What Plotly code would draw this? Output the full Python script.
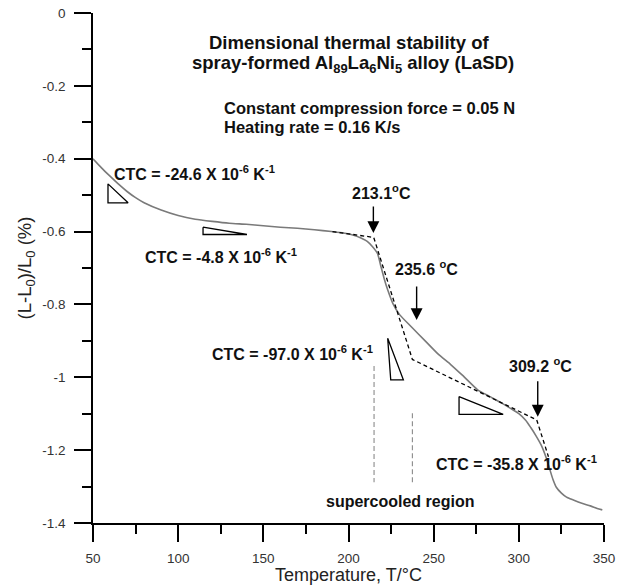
import plotly.graph_objects as go

# ---- data ----
temp = [50, 55, 60, 65, 70, 75, 80, 90, 100, 110, 120, 130, 140, 150, 160, 170, 180,
        190, 197, 203, 207, 211, 214, 217, 219, 221, 223, 226, 230, 237, 245, 253, 260,
        267, 276, 283, 290, 296, 300, 304, 307, 310, 313, 316, 318, 320, 322, 325, 328,
        332, 337, 342, 346, 349]
dl = [-0.400, -0.425, -0.448, -0.470, -0.490, -0.507, -0.521, -0.541, -0.556, -0.566,
      -0.572, -0.577, -0.580, -0.584, -0.588, -0.591, -0.595, -0.600, -0.604, -0.610,
      -0.617, -0.627, -0.641, -0.660, -0.695, -0.730, -0.760, -0.797, -0.828, -0.862,
      -0.900, -0.938, -0.965, -0.995, -1.035, -1.053, -1.071, -1.088, -1.100, -1.118,
      -1.138, -1.160, -1.185, -1.220, -1.250, -1.280, -1.302, -1.318, -1.329, -1.337,
      -1.346, -1.353, -1.360, -1.364]

tangent_t = [190.6, 214.8, 237.5, 310.5, 317.4]
tangent_v = [-0.600, -0.616, -0.951, -1.117, -1.218]

supercooled_t = [215.0, 237.5]
supercooled_top = [-0.969, -1.099]
supercooled_bottom = [-1.288, -1.290]

# slope triangles (x, y vertex lists)
tri1_t = [58.8, 58.8, 70.6, 58.8]
tri1_v = [-0.469, -0.521, -0.521, -0.469]
tri2_t = [114.6, 114.6, 140.4, 114.6]
tri2_v = [-0.588, -0.608, -0.608, -0.588]
tri3_t = [223.0, 224.8, 232.2, 223.0]
tri3_v = [-0.893, -1.007, -1.007, -0.893]
tri4_t = [264.9, 264.9, 290.8, 264.9]
tri4_v = [-1.053, -1.102, -1.102, -1.053]

onset_labels = ["213.1<sup>o</sup>C", "235.6 <sup>o</sup>C", "309.2 <sup>o</sup>C"]
onset_arrow_t = [214.6, 240.0, 311.1]
onset_arrow_tip = [-0.604, -0.843, -1.108]
onset_arrow_tail = [-0.527, -0.747, -1.007]
onset_label_t = [219.5, 245.7, 312.5]
onset_label_v = [-0.490, -0.699, -0.966]

ctc_labels = ["CTC = -24.6 X 10<sup>-6</sup> K<sup>-1</sup>",
              "CTC = -4.8 X 10<sup>-6</sup> K<sup>-1</sup>",
              "CTC = -97.0 X 10<sup>-6</sup> K<sup>-1</sup>",
              "CTC = -35.8 X 10<sup>-6</sup> K<sup>-1</sup>"]
ctc_t = [61.3, 79.3, 118.7, 250.4]
ctc_v = [-0.438, -0.667, -0.934, -1.236]

x_ticks = [50, 100, 150, 200, 250, 300, 350]
y_ticks = [0, -0.2, -0.4, -0.6, -0.8, -1, -1.2, -1.4]
y_tick_text = ["0", "-0.2", "-0.4", "-0.6", "-0.8", "-1", "-1.2", "-1.4"]

FONT = "Liberation Sans, Arial, Helvetica, sans-serif"
TXT = "#111"

fig = go.Figure()

fig.add_trace(go.Scatter(x=temp, y=dl, mode="lines",
                         line=dict(color="#7a7a7a", width=1.6, shape="spline", smoothing=0.6),
                         hoverinfo="skip", showlegend=False))
fig.add_trace(go.Scatter(x=tangent_t, y=tangent_v, mode="lines",
                         line=dict(color="black", width=1.3, dash="4px,3px"),
                         hoverinfo="skip", showlegend=False))
for xt, yt, yb in zip(supercooled_t, supercooled_top, supercooled_bottom):
    fig.add_trace(go.Scatter(x=[xt, xt], y=[yt, yb], mode="lines",
                             line=dict(color="#8a8a8a", width=1.1, dash="5px,3px"),
                             hoverinfo="skip", showlegend=False))
for tx, tv in [(tri1_t, tri1_v), (tri2_t, tri2_v), (tri3_t, tri3_v), (tri4_t, tri4_v)]:
    fig.add_trace(go.Scatter(x=tx, y=tv, mode="lines", fill="toself", fillcolor="white",
                             line=dict(color="black", width=1.3),
                             hoverinfo="skip", showlegend=False))

ann = []
for lab, at, tip, tail, lt, lv in zip(onset_labels, onset_arrow_t, onset_arrow_tip,
                                       onset_arrow_tail, onset_label_t, onset_label_v):
    ann.append(dict(x=at, y=tip, ax=at, ay=tail, xref="x", yref="y", axref="x", ayref="y",
                    text="", showarrow=True, arrowhead=2, arrowsize=1.7, arrowwidth=1.4,
                    arrowcolor="black", standoff=0, startstandoff=0))
    ann.append(dict(x=lt, y=lv, xref="x", yref="y", text="<b>" + lab + "</b>", showarrow=False,
                    font=dict(family=FONT, size=16, color=TXT), xanchor="center",
                    yanchor="middle"))
for lab, lt, lv in zip(ctc_labels, ctc_t, ctc_v):
    ann.append(dict(x=lt, y=lv, xref="x", yref="y", text="<b>" + lab + "</b>", showarrow=False,
                    font=dict(family=FONT, size=16, color=TXT), xanchor="left",
                    yanchor="middle"))

ann.append(dict(x=200.5, y=-0.081, xref="x", yref="y",
                text="<b>Dimensional thermal stability of</b>", showarrow=False,
                font=dict(family=FONT, size=18.5, color=TXT), xanchor="center", yanchor="middle"))
ann.append(dict(x=202.4, y=-0.140, xref="x", yref="y",
                text="<b>spray-formed Al<sub>89</sub>La<sub>6</sub>Ni<sub>5</sub> alloy (LaSD)</b>",
                showarrow=False, font=dict(family=FONT, size=18.5, color=TXT),
                xanchor="center", yanchor="middle"))
ann.append(dict(x=125.7, y=-0.260, xref="x", yref="y",
                text="<b>Constant compression force = 0.05 N</b>", showarrow=False,
                font=dict(family=FONT, size=16.5, color=TXT), xanchor="left", yanchor="middle"))
ann.append(dict(x=125.7, y=-0.312, xref="x", yref="y",
                text="<b>Heating rate = 0.16 K/s</b>", showarrow=False,
                font=dict(family=FONT, size=16.5, color=TXT), xanchor="left", yanchor="middle"))
ann.append(dict(x=230.0, y=-1.341, xref="x", yref="y",
                text="<b>supercooled region</b>", showarrow=False,
                font=dict(family=FONT, size=16, color=TXT), xanchor="center", yanchor="middle"))

fig.update_layout(
    width=625, height=585,
    margin=dict(l=93, r=21, t=13, b=62),
    paper_bgcolor="white", plot_bgcolor="white",
    font=dict(family=FONT, color="#333"),
    annotations=ann,
    showlegend=False,
)
fig.update_xaxes(range=[50, 350], tickvals=x_ticks, ticks="outside", ticklen=17, tickwidth=1.5,
                 tickcolor="black", showline=True, linecolor="black", linewidth=1.5,
                 showgrid=False, zeroline=False, tickfont=dict(size=13.5, color="#333"),
                 ticklabelstandoff=5, automargin=False,
                 minor=dict(dtick=25, tick0=50, ticks="outside", ticklen=9, tickwidth=1.5,
                            tickcolor="black", showgrid=False),
                 title=dict(text="Temperature, T/°C", font=dict(size=18, color="#222"), standoff=0))
fig.update_yaxes(range=[-1.4, 0], tickvals=y_ticks, ticktext=y_tick_text, ticks="outside",
                 ticklen=17, tickwidth=1.5, tickcolor="black", showline=True, linecolor="black",
                 linewidth=1.5, showgrid=False, zeroline=False, automargin=False,
                 tickfont=dict(size=13.5, color="#333"), ticklabelstandoff=6,
                 minor=dict(dtick=0.1, tick0=0, ticks="outside", ticklen=9, tickwidth=1.5,
                            tickcolor="black", showgrid=False),
                 title=dict(text="(L-L<sub>0</sub>)/L<sub>0</sub> (%)",
                            font=dict(size=18.5, color="#222"), standoff=6))

fig.write_html("out.html", config={"displayModeBar": False},
               post_script="document.body.style.margin='0';document.body.style.overflow='hidden';")
